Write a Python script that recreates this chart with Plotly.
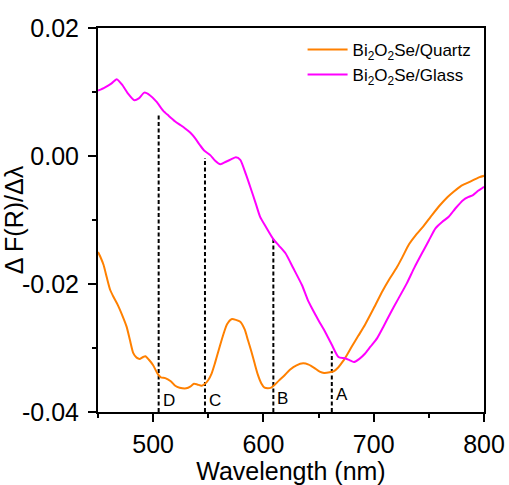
import plotly.graph_objects as go

# Derivative spectra dF(R)/dλ of Bi2O2Se films on two substrates
wl_quartz = [450, 452, 455, 458, 461, 464, 468, 472, 476, 479, 482, 485, 488, 491, 493, 496,
             500, 504, 507, 511, 516, 520, 524, 530, 534, 537, 540, 544, 547, 550, 553, 556,
             560, 564, 567, 571, 575, 579, 583, 586, 589, 592, 595, 598, 601, 604, 607, 610,
             614, 619, 624, 630, 636, 641, 646, 651, 655, 660, 664, 668, 672, 676, 680, 686,
             692, 700, 708, 714, 721, 726, 732, 738, 745, 753, 760, 767, 773, 779, 785, 791,
             796, 800]
d_quartz = [-0.0150, -0.0157, -0.0170, -0.0190, -0.0209, -0.0220, -0.0233, -0.0249, -0.0267,
            -0.0288, -0.0308, -0.0315, -0.0317, -0.0314, -0.0313, -0.0318, -0.0327, -0.0340,
            -0.0346, -0.0347, -0.0352, -0.0359, -0.0362, -0.0363, -0.0360, -0.0356, -0.0357,
            -0.0359, -0.0356, -0.0350, -0.0340, -0.0324, -0.0300, -0.0277, -0.0263, -0.0255,
            -0.0256, -0.0259, -0.0271, -0.0288, -0.0305, -0.0324, -0.0342, -0.0355, -0.0362,
            -0.0363, -0.0362, -0.0358, -0.0351, -0.0343, -0.0334, -0.0327, -0.0324, -0.0326,
            -0.0331, -0.0337, -0.0339, -0.0338, -0.0336, -0.0330, -0.0321, -0.0310, -0.0298,
            -0.0281, -0.0264, -0.0238, -0.0211, -0.0193, -0.0174, -0.0158, -0.0138, -0.0124,
            -0.0110, -0.0092, -0.0077, -0.0064, -0.0055, -0.0047, -0.0042, -0.0037, -0.0033,
            -0.0031]

wl_glass = [450, 456, 462, 467, 472, 477, 483, 487, 492, 497, 503, 509, 514, 520, 525, 529,
            534, 538, 542, 546, 552, 556, 561, 566, 571, 575, 579, 584, 588, 593, 597, 602,
            609, 614, 620, 627, 635, 640, 644, 650, 656, 662, 668, 674, 678, 682, 687, 692,
            697, 703, 709, 715, 722, 730, 737, 745, 750, 756, 762, 768, 774, 781, 786, 790,
            795, 800]
d_glass = [0.0102, 0.0107, 0.0113, 0.0120, 0.0111, 0.0098, 0.0087, 0.0090, 0.0099, 0.0095,
           0.0085, 0.0071, 0.0063, 0.0054, 0.0048, 0.0043, 0.0036, 0.0028, 0.0018, 0.0009,
           0.0001, -0.0007, -0.0013, -0.0009, -0.0005, -0.0002, -0.0006, -0.0028, -0.0048,
           -0.0074, -0.0095, -0.0110, -0.0130, -0.0140, -0.0152, -0.0175, -0.0202, -0.0224,
           -0.0238, -0.0257, -0.0275, -0.0295, -0.0314, -0.0316, -0.0319, -0.0322, -0.0317,
           -0.0309, -0.0298, -0.0285, -0.0266, -0.0246, -0.0224, -0.0199, -0.0174, -0.0148,
           -0.0132, -0.0113, -0.0103, -0.0095, -0.0082, -0.0069, -0.0064, -0.0061, -0.0054,
           -0.0048]

# Marked transitions
peak_labels = ["D", "C", "B", "A"]
peak_wl = [505, 547, 609, 662]
peak_top = [0.0065, -0.0003, -0.0130, -0.0305]
label_y = [-0.0382, -0.0382, -0.0379, -0.0373]

y_min, y_max = -0.04, 0.02
x_min, x_max = 450, 800
y_ticks = [-0.04, -0.02, 0.00, 0.02]
y_ticktext = ["-0.04", "-0.02", "0.00", "0.02"]
x_ticks = [500, 600, 700, 800]

FONT = "Liberation Sans, Arial, sans-serif"

fig = go.Figure()

for wl, top in zip(peak_wl, peak_top):
    fig.add_trace(go.Scatter(
        x=[wl, wl], y=[y_min, top], mode="lines",
        line=dict(color="black", width=2, dash="4px,2.5px"),
        showlegend=False, hoverinfo="skip"))

fig.add_trace(go.Scatter(
    x=wl_quartz, y=d_quartz, mode="lines", name="Bi<sub>2</sub>O<sub>2</sub>Se/Quartz",
    line=dict(color="#FF8000", width=2, shape="spline", smoothing=0.6)))
fig.add_trace(go.Scatter(
    x=wl_glass, y=d_glass, mode="lines", name="Bi<sub>2</sub>O<sub>2</sub>Se/Glass",
    line=dict(color="#FF00FF", width=2, shape="spline", smoothing=0.6)))

for lab, wl, ly in zip(peak_labels, peak_wl, label_y):
    fig.add_annotation(x=wl, y=ly, text=lab, showarrow=False, xanchor="left",
                       yanchor="middle", xshift=2,
                       font=dict(family=FONT, size=17, color="black"))

axis_common = dict(
    showline=True, linecolor="black", linewidth=2, mirror=True,
    showgrid=False, zeroline=False, automargin=False,
    ticks="outside", ticklen=8, tickwidth=1.5, tickcolor="black",
    tickfont=dict(family=FONT, size=25, color="black"),
)

fig.update_xaxes(
    range=[x_min, x_max], tickvals=x_ticks,
    minor=dict(dtick=50, tick0=450, ticks="outside", ticklen=4, tickwidth=1.5, tickcolor="black"),
    title=dict(text="Wavelength (nm)", font=dict(family=FONT, size=25, color="black"), standoff=11),
    ticklabelstandoff=1,
    **axis_common)
fig.update_yaxes(
    range=[y_min, y_max], tickvals=y_ticks, ticktext=y_ticktext,
    minor=dict(dtick=0.01, tick0=0, ticks="outside", ticklen=4, tickwidth=1.5, tickcolor="black"),
    title=dict(text="Δ F(R)/Δλ", font=dict(family=FONT, size=25, color="black"), standoff=3),
    ticklabelstandoff=4,
    **axis_common)

fig.update_layout(
    width=509, height=485,
    margin=dict(l=98, r=25, t=28, b=73),
    plot_bgcolor="white", paper_bgcolor="white",
    legend=dict(x=0.53, y=0.99, xanchor="left", yanchor="top",
                bgcolor="rgba(0,0,0,0)", borderwidth=0,
                font=dict(family=FONT, size=17, color="black"),
                itemwidth=40, tracegroupgap=0),
    showlegend=True,
)

fig.write_html("out.html")
